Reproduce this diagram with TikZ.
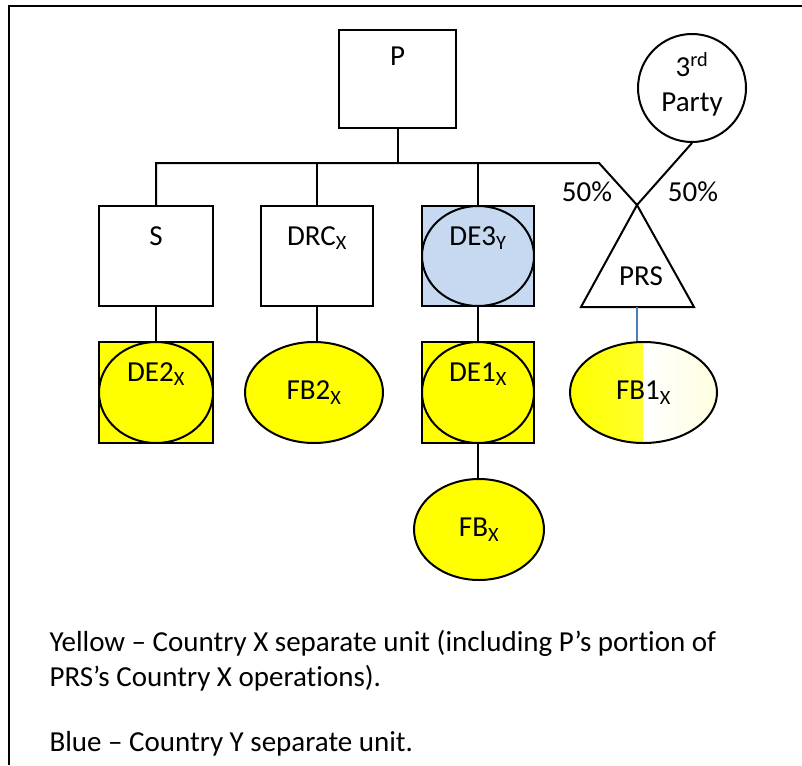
\documentclass[tikz,border=0pt]{standalone}
\usepackage{fontspec}
\setmainfont{Carlito}[Ligatures=NoCommon]
\usetikzlibrary{shapes.geometric}
\definecolor{unitYellow}{HTML}{FFFF00}
\definecolor{unitBlue}{HTML}{C6D9F1}
\definecolor{linkBlue}{HTML}{4A7EBB}

\begin{document}
\begin{tikzpicture}[x=1pt,y=-1pt,
          box/.style={rectangle, draw, line width=2pt, minimum width=114pt,
                      minimum height=100pt, inner sep=0pt},
          oval/.style={ellipse, draw, line width=2pt, minimum width=#1,
                       minimum height=101pt, inner sep=0pt},
          uptext/.style={label={[anchor=base,yshift=-40pt]north:#1}},
          link/.style={line width=2pt},
          every node/.style={align=center},
          font=\fontsize{29}{35}\selectfont]
        \useasboundingbox (0,0) rectangle (802,765);
        \draw[line width=2.5pt] (9,765) -- (9,6) -- (802,6);
        % top row
        \node[box, minimum width=117pt, minimum height=98pt,
              label={[anchor=base,yshift=-37pt]north:P}] (p) at (397.5,79) {};
        \node[circle, draw, line width=2pt, minimum size=108pt, inner sep=0pt,
              label={[anchor=base,yshift=-78pt]north:{3\textsuperscript{rd}\\Party}}] (tp) at (692,88) {};
        % second row
        \node[box, uptext=S] (s) at (156,256) {};
        \node[box, minimum width=112pt, uptext=DRC\textsubscript{X}] (drc) at (317,256) {};
        \node[box, minimum width=112pt, fill=unitBlue] (de3) at (478,256) {};
        \node[oval=112pt, minimum height=100pt, uptext=DE3\textsubscript{Y}] (de3o) at (478,256) {};
        \draw[link] (637,205) coordinate (prs-top) -- (694,307) -- (581,307) -- cycle;
        \coordinate (prs-base) at (637,307);
        \node (prs) at (641,276) {PRS};
        \node (pl) at (587,192) {50\%};
        \node (pr) at (693,192) {50\%};
        % third row
        \node[box, minimum height=101pt, fill=unitYellow] (de2) at (156,392.5) {};
        \node[oval=114pt, uptext=DE2\textsubscript{X}] (de2o) at (156,392.5) {};
        \node[oval=138pt, fill=unitYellow] (fb2) at (314,392.5) {FB2\textsubscript{X}};
        \node[box, minimum width=112pt, minimum height=101pt, fill=unitYellow] (de1) at (478,392.5) {};
        \node[oval=112pt, uptext=DE1\textsubscript{X}] (de1o) at (478,392.5) {};
        \node[oval=147pt, path picture={
                \shade[left color=unitYellow, right color=unitYellow!65!white]
                  (path picture bounding box.north west) rectangle (path picture bounding box.south);
                \shade[left color=white, right color=unitYellow!12!white]
                  (path picture bounding box.north) rectangle (path picture bounding box.south east);}]
              (fb1) at (643.5,392.5) {FB1\textsubscript{X}};
        \node[oval=130pt, fill=unitYellow] (fb) at (479,529.5) {FB\textsubscript{X}};
        % links
        \coordinate (bend) at (599,163);
        \draw[link] (s.north) |- (bend) -- (prs-top);
        \draw[link] (p.south) -- (p.south |- bend);
        \draw[link] (drc.north) -- (drc.north |- bend);
        \draw[link] (de3.north) -- (de3.north |- bend);
        \draw[link] (tp.south) -- (prs-top);
        \draw[link] (s.south) -- (de2.north);
        \draw[link] (drc.south) -- (drc.south |- fb2.north);
        \draw[link] (de3.south) -- (de1.north);
        \draw[link] (de1.south) -- (de1.south |- fb.north);
        \draw[linkBlue, line width=1.5pt] (prs-base) -- (prs-base |- fb1.north);
        % key
        \node[anchor=base west, align=left] (key1) at (46,686)
              {Yellow – Country X separate unit (including P’s portion of\\PRS’s Country X operations).};
        \node[anchor=base west] (key2) at (46,751) {Blue – Country Y separate unit.};
      \end{tikzpicture}
\end{document}
